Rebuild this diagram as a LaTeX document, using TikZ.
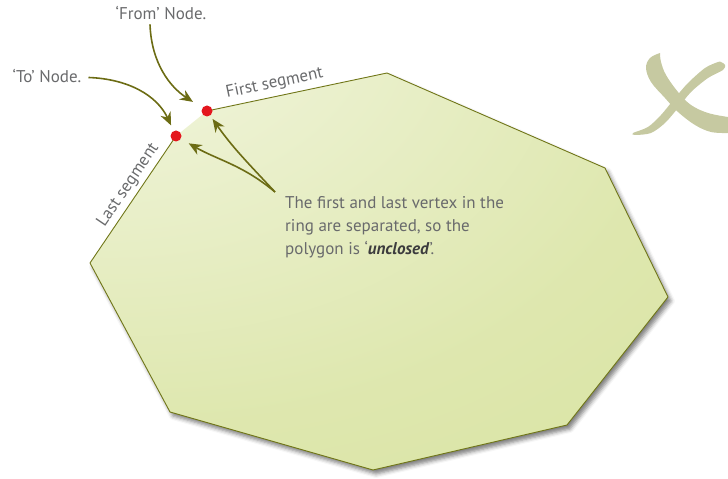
\documentclass[tikz,border=0pt]{standalone}
\usepackage{fontspec}
\setmainfont{PT Sans}
\usetikzlibrary{arrows.meta,shadows.blur}
\definecolor{arrowc}{RGB}{108,108,20}
\definecolor{edgec}{RGB}{112,118,24}
\definecolor{textc}{RGB}{105,106,108}
\definecolor{boldc}{RGB}{60,60,62}
\definecolor{dotred}{RGB}{228,22,30}
\definecolor{crossc}{RGB}{198,201,161}
\definecolor{fadelight}{RGB}{252,253,248}
\definecolor{fadedark}{RGB}{212,224,150}
\pgfdeclareradialshading{polyfade}{\pgfpoint{-30bp}{40bp}}{color(0bp)=(fadelight); color(12bp)=(fadelight!70!fadedark); color(45bp)=(fadelight!25!fadedark); color(85bp)=(fadedark); color(130bp)=(fadedark)}

\begin{document}
\begin{tikzpicture}[x=1pt,y=1pt,>={Stealth[length=13pt,width=11pt]},
  pointer/.style={draw=arrowc,line width=1.6pt,->},
  edge/.style={draw=edgec,line width=0.9pt},
  label/.style={text=textc,font=\fontsize{17}{23}\selectfont,inner sep=0pt},
  vertex/.style={circle,fill=dotred,minimum size=11pt,inner sep=0pt}]
  \useasboundingbox (0,0) rectangle (728,479);
  \coordinate (fromv) at (207,368);
  \coordinate (p1) at (387,406);
  \coordinate (p2) at (605,311);
  \coordinate (p3) at (668,182);
  \coordinate (p4) at (567,54);
  \coordinate (p5) at (373,9);
  \coordinate (p6) at (170,67);
  \coordinate (p7) at (90,216);
  \coordinate (tov) at (176,343);
  \shade[shading=polyfade,blur shadow={shadow xshift=3pt,shadow yshift=-4pt,shadow blur radius=4pt,shadow opacity=50}]
    (fromv) -- (p1) -- (p2) -- (p3) -- (p4) -- (p5) -- (p6) -- (p7) -- (tov) -- cycle;
  \draw[edge,line join=round] (fromv) -- (p1) -- (p2) -- (p3) -- (p4) -- (p5) -- (p6) -- (p7) -- (tov);
  \path (fromv) -- (p1) node[label,sloped,above=5pt,pos=0.39] {First segment};
  \path (p7) -- (tov) node[label,sloped,above=4pt,pos=0.56] {Last segment};
  \node[vertex] (from) at (fromv) {};
  \node[vertex] (to) at (tov) {};
  \node[label,anchor=base] (fromlbl) at (161,459) {‘From’ Node.};
  \node[label,anchor=base] (tolbl) at (47,396) {‘To’ Node.};
  \node[label,anchor=north west,align=left] (note) at (285,283)
    {The first and last vertex in the\\ring are separated, so the\\polygon is ‘\textcolor{boldc}{\textbf{\textit{unclosed}}}’.};
  \coordinate (notetip) at (275,287);
  \draw[pointer,shorten >=11pt] ([xshift=-11pt,yshift=-4pt]fromlbl.south) to[out=-88,in=147] (from);
  \draw[pointer,shorten >=6pt] ([shift={(7pt,-1pt)}]tolbl.east) to[out=-2,in=115] (to);
  \draw[pointer,shorten >=4pt] (notetip) to[out=133,in=-55] (from);
  \draw[pointer,shorten >=9pt] (notetip) to[out=140,in=-30] (to);
  \fill[crossc] plot[smooth,tension=.6] coordinates {(660,426) (650,421) (646,411) (651,397) (665,381) (678,367) (695,354) (711,347) (728,346)}
    -- plot[smooth,tension=.6] coordinates {(728,362) (708,366) (691,374) (678,387) (666,404) (661,417) (660,426)} -- cycle;
  \fill[crossc] plot[smooth cycle,tension=.5] coordinates {(721,417) (725,414) (723,409) (708,401) (691,387) (678,371) (665,356) (651,346) (635,344) (633,346) (648,352) (661,364) (675,381) (688,396) (705,411) (718,417)};
\end{tikzpicture}
\end{document}
